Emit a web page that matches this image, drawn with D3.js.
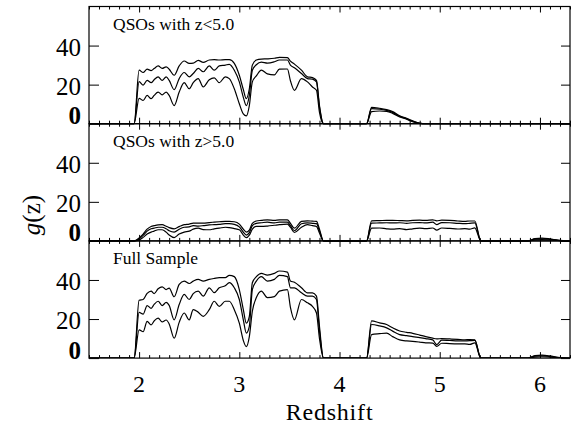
<!DOCTYPE html>
<html>
<head>
<meta charset="utf-8">
<script src="https://cdn.jsdelivr.net/npm/d3@7"></script>
<style>
  body { margin: 0; background: #fff; }
  text { font-family: "Liberation Serif", "DejaVu Serif", serif; fill: #000; }
</style>
</head>
<body>
<script>
// redshift grid shared by every curve
const zGrid = [
  1.50, 1.95, 2.00, 2.04, 2.08, 2.12, 2.15, 2.19, 2.23, 2.27,
  2.30, 2.35, 2.40, 2.45, 2.50, 2.54, 2.59, 2.64, 2.70, 2.75,
  2.80, 2.86, 2.90, 2.95, 3.00, 3.04, 3.07, 3.10, 3.13, 3.17,
  3.22, 3.28, 3.35, 3.40, 3.48, 3.51, 3.55, 3.62, 3.68, 3.73,
  3.77, 3.80, 3.84,
  4.27, 4.32, 4.40, 4.47, 4.53, 4.60, 4.67, 4.73, 4.80, 4.86,
  4.93, 4.97, 5.02, 5.10, 5.18, 5.25, 5.30, 5.35, 5.41,
  5.88, 5.95, 6.02, 6.10, 6.18, 6.30
];

// QSOs with z<5.0
const lowZHigh = [
  0, 0, 27.4, 26.2, 27.9, 27.2, 28.2, 29.6, 28.3, 29.1,
  27.9, 24.8, 29.6, 32.1, 30.9, 31.0, 32.4, 31.4, 32.6, 32.8,
  32.6, 32.8, 32.8, 30.9, 24.8, 17.5, 12.8, 17.9, 30.0, 32.6,
  33.1, 33.2, 33.5, 34.0, 33.8, 32.0, 30.5, 27.4, 24.0, 23.6,
  22.2, 9.3, 0,
  0, 8.4, 7.9, 7.2, 6.2, 4.1, 2.8, 1.5, 0.3, 0,
  0, 0, 0, 0, 0, 0, 0, 0, 0,
  0, 0, 0, 0, 0, 0
];
const lowZMid = [
  0, 0, 21.5, 19.7, 22.2, 21.0, 22.5, 24.0, 22.2, 24.0,
  22.2, 17.4, 23.1, 26.2, 24.0, 25.7, 28.3, 26.6, 29.6, 27.4,
  29.6, 30.0, 30.4, 27.4, 21.4, 13.5, 9.3, 14.5, 27.4, 30.2,
  31.5, 31.0, 31.7, 32.6, 32.6, 30.0, 28.6, 25.7, 23.1, 22.8,
  21.4, 8.5, 0,
  0, 7.7, 7.4, 6.8, 5.8, 3.8, 2.5, 1.2, 0.2, 0,
  0, 0, 0, 0, 0, 0, 0, 0, 0,
  0, 0, 0, 0, 0, 0
];
const lowZLow = [
  0, 0, 13.0, 11.9, 14.5, 12.8, 14.5, 16.2, 14.8, 16.2,
  14.5, 9.3, 16.2, 21.0, 17.9, 21.0, 23.1, 18.8, 22.5, 23.5,
  21.0, 24.0, 23.1, 17.9, 10.2, 5.0, 4.0, 9.3, 21.4, 24.5,
  27.4, 25.5, 25.0, 27.9, 28.0, 22.0, 17.1, 23.1, 21.4, 18.8,
  17.1, 5.8, 0,
  0, 6.2, 6.5, 6.3, 5.3, 3.5, 2.3, 1.0, 0.1, 0,
  0, 0, 0, 0, 0, 0, 0, 0, 0,
  0, 0, 0, 0, 0, 0
];

// QSOs with z>5.0
const highZHigh = [
  0, 0, 1.5, 3.5, 6.0, 7.4, 7.8, 8.2, 8.3, 7.5,
  6.8, 6.2, 7.3, 8.3, 8.6, 9.1, 9.1, 9.1, 9.4, 9.6,
  9.8, 10.0, 10.0, 9.8, 8.6, 6.0, 4.5, 5.5, 9.0, 10.2,
  10.5, 10.8, 10.5, 10.8, 10.8, 9.0, 6.5, 10.0, 10.3, 10.1,
  10.0, 6.0, 0,
  0, 10.3, 10.4, 10.5, 10.5, 10.4, 10.3, 10.5, 10.6, 10.5,
  10.8, 10.3, 10.6, 10.5, 10.2, 10.0, 10.2, 10.2, 0,
  0, 1.2, 1.4, 1.0, 0.4, 0
];
const highZMid = [
  0, 0, 1.0, 2.8, 5.0, 6.2, 6.5, 7.0, 7.0, 6.2,
  5.2, 4.5, 6.0, 7.0, 7.2, 7.8, 7.6, 7.8, 8.2, 8.3,
  8.5, 8.8, 8.8, 8.5, 7.2, 4.5, 3.0, 4.2, 7.8, 9.0,
  9.3, 9.6, 9.2, 9.6, 9.6, 7.8, 5.2, 8.8, 9.2, 9.0,
  8.8, 5.0, 0,
  0, 9.1, 9.2, 9.3, 9.2, 9.3, 9.0, 9.3, 9.4, 9.2,
  9.6, 8.3, 9.4, 9.3, 9.0, 8.8, 9.0, 9.2, 0,
  0, 0.9, 1.1, 0.8, 0.3, 0
];
const highZLow = [
  0, 0, 0.5, 1.8, 3.5, 4.5, 5.0, 5.7, 5.7, 4.5,
  3.0, 1.7, 3.5, 4.5, 5.0, 6.0, 6.5, 5.8, 5.7, 6.2,
  6.5, 7.0, 6.8, 6.3, 5.7, 3.0, 1.7, 3.0, 6.0, 7.4,
  7.4, 7.6, 8.0, 8.3, 8.6, 7.0, 4.3, 7.0, 8.3, 7.8,
  7.4, 4.0, 0,
  0, 6.5, 6.6, 6.2, 6.0, 6.3, 5.8, 6.2, 6.5, 6.3,
  6.6, 5.5, 6.6, 6.4, 6.1, 6.3, 6.0, 6.7, 0,
  0, 0.5, 0.7, 0.5, 0.2, 0
];

// Full Sample
const fullHigh = [
  0, 0, 29.6, 30.0, 33.1, 34.3, 33.0, 35.5, 36.5, 35.1,
  35.8, 31.4, 37.7, 39.4, 38.2, 39.4, 40.3, 39.4, 40.3, 40.8,
  41.2, 41.2, 42.4, 41.7, 35.1, 24.8, 17.9, 21.4, 38.6, 41.7,
  43.4, 42.5, 43.4, 44.6, 44.0, 39.5, 38.8, 36.0, 33.4, 33.4,
  31.7, 16.2, 0,
  0, 19.1, 18.0, 17.2, 15.5, 13.9, 13.2, 12.7, 11.8, 11.0,
  10.2, 9.8, 10.0, 9.8, 9.6, 9.4, 9.5, 9.3, 0,
  0, 1.3, 1.5, 1.1, 0.4, 0
];
const fullMid = [
  0, 0, 23.4, 22.5, 26.9, 25.5, 27.5, 29.1, 26.9, 28.5,
  27.0, 19.6, 27.4, 32.6, 30.0, 33.0, 34.3, 31.7, 36.0, 33.5,
  36.0, 37.0, 38.6, 36.0, 30.0, 19.6, 12.8, 16.2, 35.1, 39.4,
  41.7, 39.4, 40.3, 42.4, 41.7, 36.0, 36.0, 33.4, 31.7, 31.7,
  30.0, 14.0, 0,
  0, 17.2, 16.5, 15.5, 13.8, 12.0, 11.5, 11.0, 10.5, 10.0,
  9.3, 6.9, 9.2, 9.0, 8.8, 8.8, 8.9, 9.1, 0,
  0, 1.0, 1.2, 0.8, 0.3, 0
];
const fullLow = [
  0, 0, 14.5, 13.5, 18.8, 17.0, 19.0, 20.5, 18.5, 19.5,
  17.5, 10.2, 18.3, 23.1, 19.6, 24.8, 23.5, 21.4, 24.8, 29.1,
  26.5, 29.1, 29.1, 24.8, 17.9, 9.0, 5.9, 11.0, 24.0, 31.0,
  34.3, 31.0, 31.5, 34.3, 35.1, 26.0, 19.6, 30.0, 28.3, 26.5,
  23.1, 10.0, 0,
  0, 12.0, 12.5, 12.8, 11.0, 9.3, 8.8, 8.6, 8.2, 7.8,
  7.7, 6.0, 7.6, 7.4, 7.3, 7.3, 7.0, 7.8, 0,
  0, 0.5, 0.7, 0.5, 0.2, 0
];

const panelLabels = ["QSOs with z<5.0", "QSOs with z>5.0", "Full Sample"];
const yTicks = [0, 20, 40];
const xTicks = [2, 3, 4, 5, 6];

const panels = [
  { label: panelLabels[0], series: [lowZHigh, lowZMid, lowZLow] },
  { label: panelLabels[1], series: [highZHigh, highZMid, highZLow] },
  { label: panelLabels[2], series: [fullHigh, fullMid, fullLow] }
];

const width = 574, height = 424;
const plotLeft = 89, plotRight = 570, plotTop = 6.5, panelH = 117.2;

const svg = d3.select("body").append("svg")
  .attr("width", width)
  .attr("height", height);

const x = d3.scaleLinear().domain([1.5, 6.3]).range([plotLeft, plotRight]);
const minorTicks = d3.range(15, 64).map(d => d / 10).filter(d => !xTicks.includes(d));

svg.append("clipPath").attr("id", "plotClip")
  .append("rect")
    .attr("x", plotLeft).attr("y", plotTop)
    .attr("width", plotRight - plotLeft).attr("height", panelH * 3);

panels.forEach((p, i) => {
  const y0 = plotTop + i * panelH;
  const y = d3.scaleLinear().domain([0, 60]).range([y0 + panelH, y0]);
  const g = svg.append("g");

  //curves first, frame and ticks on top
  const line = d3.line()
    .x((d, k) => x(zGrid[k]))
    .y(d => y(d))
    .curve(d3.curveMonotoneX);

  g.append("g").attr("clip-path", "url(#plotClip)")
    .selectAll("path")
    .data(p.series)
    .join("path")
      .attr("d", line)
      .attr("fill", "none")
      .attr("stroke", "#000")
      .attr("stroke-width", 1.2);

  // bottom & top x ticks (inward)
  const addX = (axisFn, ypos, ticks, size) => {
    const a = g.append("g")
      .attr("transform", `translate(0,${ypos})`)
      .call(axisFn(x).tickValues(ticks).tickSize(size).tickFormat(""));
    a.select(".domain").remove();
    a.selectAll("line").attr("stroke-width", 1);
  };
  addX(d3.axisBottom, y0 + panelH, xTicks, -6);
  addX(d3.axisBottom, y0 + panelH, minorTicks, -3);
  addX(d3.axisTop, y0, xTicks, -6);
  addX(d3.axisTop, y0, minorTicks, -3);

  // left axis with labels
  const ya = g.append("g")
    .attr("transform", `translate(${plotLeft},0)`)
    .call(d3.axisLeft(y).tickValues(yTicks).tickSize(-10).tickPadding(8));
  ya.select(".domain").remove();
  ya.selectAll("text")
    .style("font-size", "25px")
    .attr("dy", d => d === 0 ? "0em" : "0.38em")
    .attr("font-weight", d => d === 0 ? "bold" : null);

  const yr = g.append("g")
    .attr("transform", `translate(${plotRight},0)`)
    .call(d3.axisRight(y).tickValues(yTicks).tickSize(-9).tickFormat(""));
  yr.select(".domain").remove();

  // frame
  g.append("rect")
    .attr("x", plotLeft).attr("y", y0)
    .attr("width", plotRight - plotLeft).attr("height", panelH)
    .attr("fill", "none")
    .attr("stroke", "#000")
    .attr("stroke-width", 1.2);

  g.append("text")
    .attr("x", 113)
    .attr("y", y0 + 23.5)
    .style("font-size", "17.5px")
    .text(p.label);
});

// x tick labels under the last panel
svg.append("g")
  .selectAll("text")
  .data(xTicks)
  .join("text")
    .attr("x", d => x(d))
    .attr("y", 392)
    .attr("text-anchor", "middle")
    .style("font-size", "24px")
    .text(d => d);

svg.append("text")
  .attr("x", (plotLeft + plotRight) / 2)
  .attr("y", 420)
  .attr("text-anchor", "middle")
  .style("font-size", "24px")
  .attr("letter-spacing", "0.8px")
  .text("Redshift");

const yl = svg.append("text")
  .attr("transform", "translate(40,215) rotate(-90)")
  .attr("text-anchor", "middle")
  .style("font-size", "25px");
yl.append("tspan").attr("font-style", "italic").text("g");
yl.append("tspan").text("(z)");
</script>
</body>
</html>
